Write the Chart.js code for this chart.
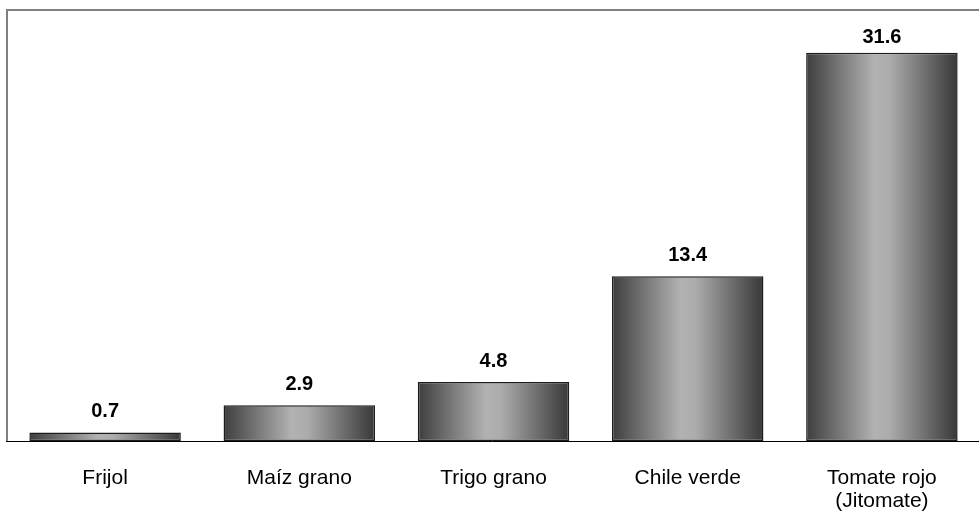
<!DOCTYPE html>
<html>
<head>
<meta charset="utf-8">
<script src="https://cdn.jsdelivr.net/npm/chart.js@4/dist/chart.umd.min.js"></script>
<style>
  html, body { margin: 0; padding: 0; background: #ffffff; }
  #wrap { width: 979px; height: 514px; position: relative; }
</style>
</head>
<body>
<div id="wrap"><canvas id="c" width="979" height="514"></canvas></div>
<script>
const categories = ["Frijol", "Maíz grano", "Trigo grano", "Chile verde", ["Tomate rojo", "(Jitomate)"]];
const values = [0.7, 2.9, 4.8, 13.4, 31.6];
const valueLabels = ["0.7", "2.9", "4.8", "13.4", "31.6"];
const yMax = 35;

const CAT_PCT = 0.78;

function barGradient(context) {
  const chart = context.chart;
  const xs = chart.scales && chart.scales.x;
  if (!chart.chartArea || !xs || context.dataIndex === undefined) return '#888888';
  const cx = xs.getPixelForValue(context.dataIndex);
  const catW = (chart.chartArea.right - chart.chartArea.left) / categories.length;
  const w = catW * CAT_PCT;
  const g = chart.ctx.createLinearGradient(cx - w / 2, 0, cx + w / 2, 0);
  g.addColorStop(0, '#3e3e3e');
  g.addColorStop(0.45, '#b2b2b2');
  g.addColorStop(0.55, '#acacac');
  g.addColorStop(1, '#383838');
  return g;
}

const frame = {
  id: 'frame',
  afterDatasetsDraw(chart) {
    const { ctx, chartArea: a } = chart;
    ctx.save();
    ctx.strokeStyle = '#808080';
    ctx.lineWidth = 2;
    ctx.beginPath();
    ctx.moveTo(a.left - 1, a.bottom);
    ctx.lineTo(a.left - 1, a.top - 1);
    ctx.lineTo(chart.width, a.top - 1);
    ctx.stroke();
    ctx.strokeStyle = '#000000';
    ctx.lineWidth = 1;
    ctx.beginPath();
    ctx.moveTo(a.left - 2, a.bottom + 0.5);
    ctx.lineTo(chart.width, a.bottom + 0.5);
    ctx.stroke();
    // value labels
    const meta = chart.getDatasetMeta(0);
    ctx.fillStyle = '#000000';
    ctx.font = 'bold 20px "Liberation Sans", Arial, sans-serif';
    ctx.textAlign = 'center';
    ctx.textBaseline = 'alphabetic';
    meta.data.forEach((bar, i) => {
      const yb = Math.max(bar.y - 15, a.top + 32);
      ctx.fillText(valueLabels[i], bar.x, yb);
    });
    ctx.restore();
  }
};

new Chart(document.getElementById('c'), {
  type: 'bar',
  data: {
    labels: categories,
    datasets: [{
      data: values,
      backgroundColor: barGradient,
      borderColor: '#1c1c1c',
      borderWidth: 1.5,
      borderSkipped: false,
      categoryPercentage: CAT_PCT,
      barPercentage: 1.0
    }]
  },
  options: {
    responsive: false,
    animation: false,
    devicePixelRatio: 1,
    layout: { padding: { left: 8, top: 11, right: 0, bottom: 0 } },
    plugins: { legend: { display: false }, tooltip: { enabled: false } },
    scales: {
      x: {
        grid: { display: false },
        border: { display: false },
        ticks: {
          color: '#000000',
          padding: 18,
          maxRotation: 0,
          autoSkip: false,
          font: { family: '"Liberation Sans", Arial, sans-serif', size: 21, lineHeight: 1.1 }
        },
        afterFit(scale) { scale.height = 73; }
      },
      y: {
        display: false,
        min: 0,
        max: yMax
      }
    }
  },
  plugins: [frame]
});
</script>
</body>
</html>
